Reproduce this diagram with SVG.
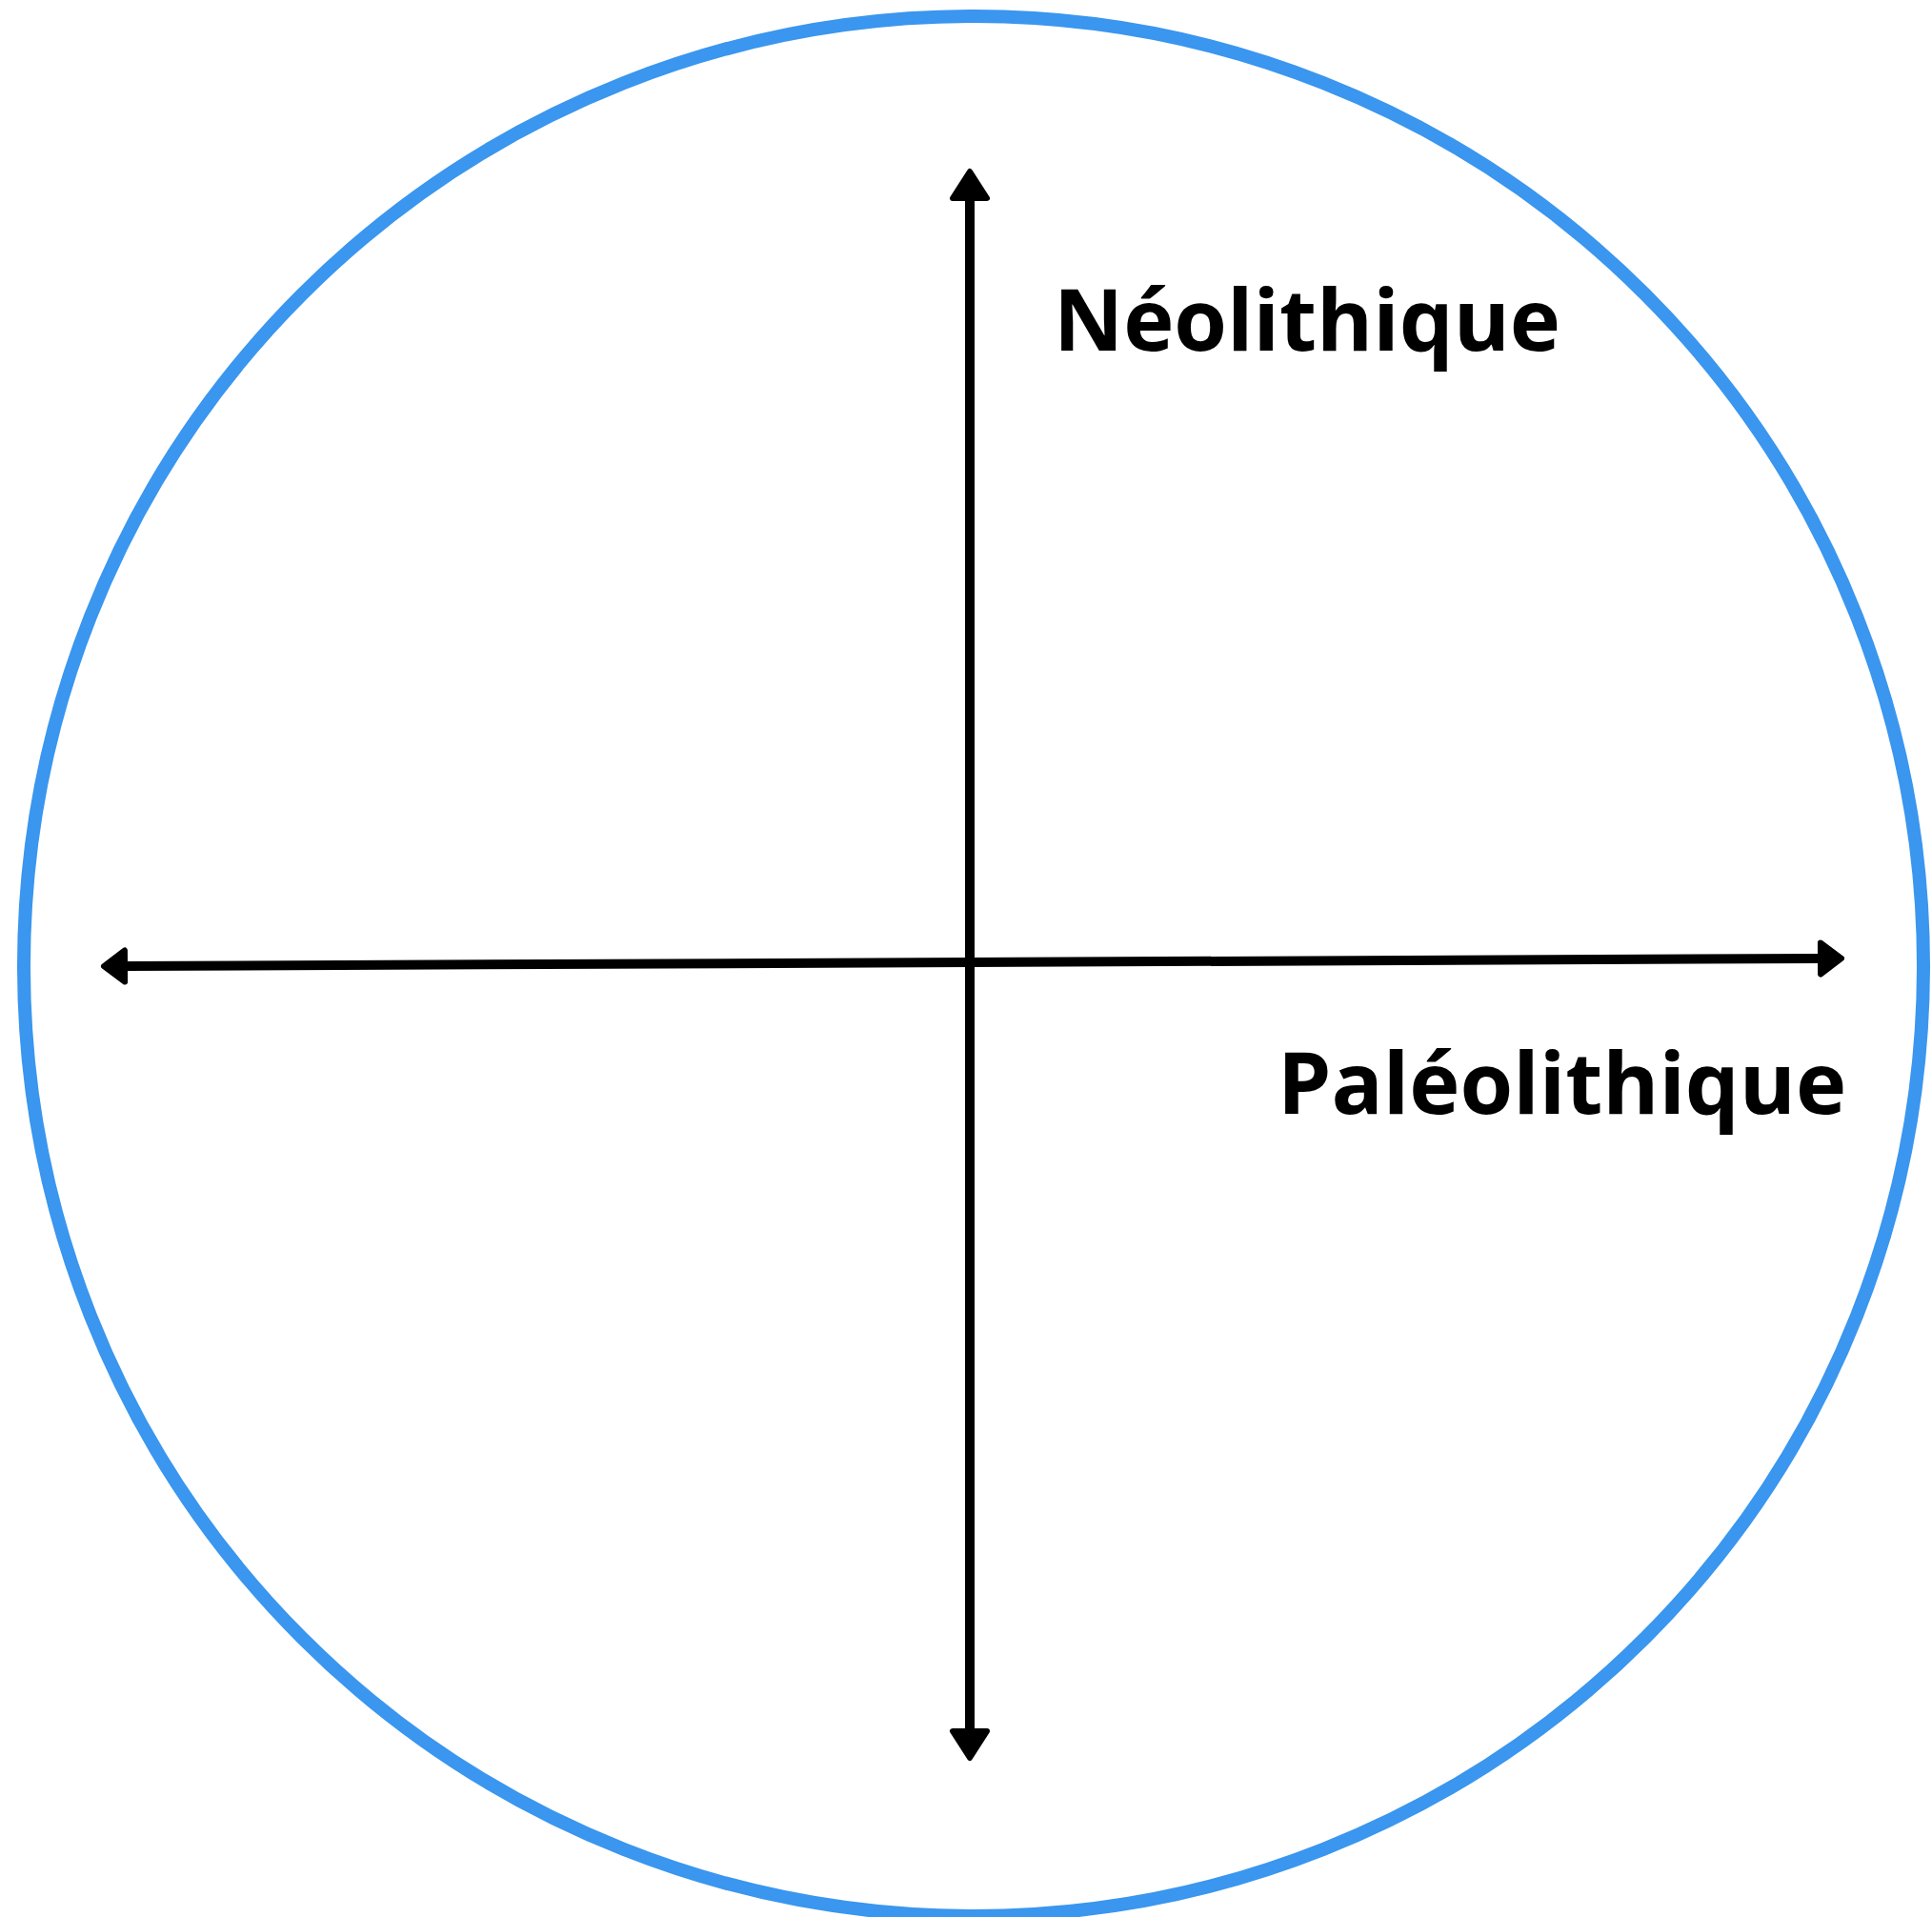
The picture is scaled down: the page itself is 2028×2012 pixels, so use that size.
<svg xmlns="http://www.w3.org/2000/svg" width="2028" height="2012" viewBox="0 0 2028 2012">
<style>
.axis{stroke:#000;stroke-width:10;fill:none}
.v{marker-start:url(#arrV);marker-end:url(#arrV)}
.h{marker-start:url(#arrH);marker-end:url(#arrH)}
.lbl{font-family:"Open Sans","Noto Sans",sans-serif;font-weight:700;font-size:90px;fill:#000}
</style>
<defs>
<marker id="arrV" markerUnits="userSpaceOnUse" markerWidth="40" markerHeight="50" refX="0" refY="0" orient="auto-start-reverse" overflow="visible">
<path d="M3,-18 L31,0 L3,18 Z" fill="#000" stroke="#000" stroke-width="6" stroke-linejoin="round"/>
</marker>
<marker id="arrH" markerUnits="userSpaceOnUse" markerWidth="40" markerHeight="50" refX="0" refY="0" orient="auto-start-reverse" overflow="visible">
<path d="M3,-16.5 L25,0 L3,16.5 Z" fill="#000" stroke="#000" stroke-width="6" stroke-linejoin="round"/>
</marker>
</defs>
<rect width="2028" height="2012" fill="#fff"/>
<g id="circle"><circle cx="1022" cy="1014" r="997" fill="none" stroke="#3A96EE" stroke-width="14"/></g>
<g id="connectors">
<line class="axis v" x1="1018" y1="1814" x2="1018" y2="211"/>
<line class="axis h" x1="134" y1="1014" x2="1908" y2="1006"/>
</g>
<g id="neolithique"><text class="lbl" x="1106" y="368">Néolithique</text></g>
<g id="paleolithique"><text class="lbl" x="1341" y="1169">Paléolithique</text></g>
</svg>
